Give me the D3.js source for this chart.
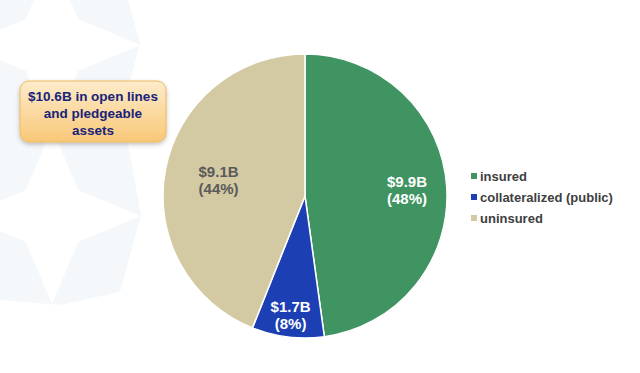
<!DOCTYPE html>
<html>
<head>
<meta charset="utf-8">
<script src="https://cdn.jsdelivr.net/npm/d3@7"></script>
<style>
  body { margin: 0; background: #fff; }
  svg { display: block; font-family: "Liberation Sans", Arial, sans-serif; }
</style>
</head>
<body>
<div id="chart"></div>
<script>
// data
var categories = ["insured", "collateralized (public)", "uninsured"];
var values = [9.9, 1.7, 9.1];
var valueLabels = ["$9.9B", "$1.7B", "$9.1B"];
var pctLabels = ["(48%)", "(8%)", "(44%)"];
var colors = ["#3f9462", "#1c40b4", "#d3c9a2"];
var labelColors = ["#ffffff", "#ffffff", "#5a5a5a"];
var calloutLines = ["$10.6B in open lines", "and pledgeable", "assets"];

var width = 640, height = 373;
var cx = 305, cy = 196, radius = 142;

var svg = d3.select("#chart")
  .append("svg")
  .attr("width", width)
  .attr("height", height);

var defs = svg.append("defs");

// faint watermark in the background
var bg = svg.append("g");
bg.append("polygon")
  .attr("points", "0,0 128,0 140,43 122,110 141,215 120,292 60,305 0,300")
  .attr("fill", "#f5f8fa");
function star(x, y, a, w) {
  return [[x, y - a], [x + w, y - w], [x + a, y], [x + w, y + w],
          [x, y + a], [x - w, y + w], [x - a, y], [x - w, y - w]]
    .map(function (p) { return p.join(","); }).join(" ");
}
bg.append("polygon").attr("points", star(52, 45, 88, 26)).attr("fill", "#fff");
bg.append("polygon").attr("points", star(52, 216, 88, 26)).attr("fill", "#fff");

// pie
var pie = d3.pie().sort(null).value(function (d) { return d; });
var arc = d3.arc().innerRadius(0).outerRadius(radius);
var arcs = pie(values);

var g = svg.append("g").attr("transform", "translate(" + cx + "," + cy + ")");

g.selectAll("path")
  .data(arcs)
  .enter()
  .append("path")
    .attr("d", arc)
    .attr("fill", function (d, i) { return colors[i]; })
    .attr("stroke", "#fff")
    .attr("stroke-width", 1.5);

// slice labels
var labelRadius = [0.72, 0.84, 0.62];
var labels = g.selectAll("text.lbl")
  .data(arcs)
  .enter()
  .append("text")
    .attr("class", "lbl")
    .attr("text-anchor", "middle")
    .attr("font-weight", "bold")
    .attr("font-size", 15)
    .attr("fill", function (d, i) { return labelColors[i]; })
    .attr("transform", function (d, i) {
      var a = (d.startAngle + d.endAngle) / 2;
      var r = radius * labelRadius[i];
      return "translate(" + (Math.sin(a) * r) + "," + (-Math.cos(a) * r) + ")";
    });
labels.append("tspan")
  .attr("x", 0).attr("dy", "-0.15em")
  .text(function (d, i) { return valueLabels[i]; });
labels.append("tspan")
  .attr("x", 0).attr("dy", "1.15em")
  .text(function (d, i) { return pctLabels[i]; });

// legend
var legend = svg.append("g").attr("transform", "translate(471,176)");
var items = legend.selectAll("g")
  .data(categories)
  .enter()
  .append("g")
    .attr("transform", function (d, i) { return "translate(0," + (i * 21) + ")"; });
items.append("rect")
  .attr("x", 0).attr("y", -3)
  .attr("width", 6).attr("height", 6)
  .attr("fill", function (d, i) { return colors[i]; });
items.append("text")
  .attr("x", 9).attr("y", 0)
  .attr("dy", "0.35em")
  .attr("font-size", 13)
  .attr("font-weight", "bold")
  .attr("fill", "#404040")
  .text(function (d) { return d; });

// callout box
var grad = defs.append("linearGradient")
  .attr("id", "callout").attr("x1", 0).attr("y1", 0).attr("x2", 0).attr("y2", 1);
grad.append("stop").attr("offset", "0%").attr("stop-color", "#fdebcb");
grad.append("stop").attr("offset", "100%").attr("stop-color", "#f9c878");

var shadow = defs.append("filter").attr("id", "shadow")
  .attr("x", "-20%").attr("y", "-20%").attr("width", "140%").attr("height", "150%");
shadow.append("feDropShadow")
  .attr("dx", 0).attr("dy", 2).attr("stdDeviation", 2)
  .attr("flood-color", "#000").attr("flood-opacity", 0.25);

var callout = svg.append("g");
callout.append("rect")
  .attr("x", 20).attr("y", 81)
  .attr("width", 146).attr("height", 61)
  .attr("rx", 9).attr("ry", 9)
  .attr("fill", "url(#callout)")
  .attr("stroke", "#f0b85e")
  .attr("stroke-width", 1)
  .attr("filter", "url(#shadow)");
callout.selectAll("text")
  .data(calloutLines)
  .enter()
  .append("text")
    .attr("x", 93)
    .attr("y", function (d, i) { return 101 + i * 17; })
    .attr("text-anchor", "middle")
    .attr("font-size", 13.5)
    .attr("font-weight", "bold")
    .attr("fill", "#17237a")
    .text(function (d) { return d; });
</script>
</body>
</html>
